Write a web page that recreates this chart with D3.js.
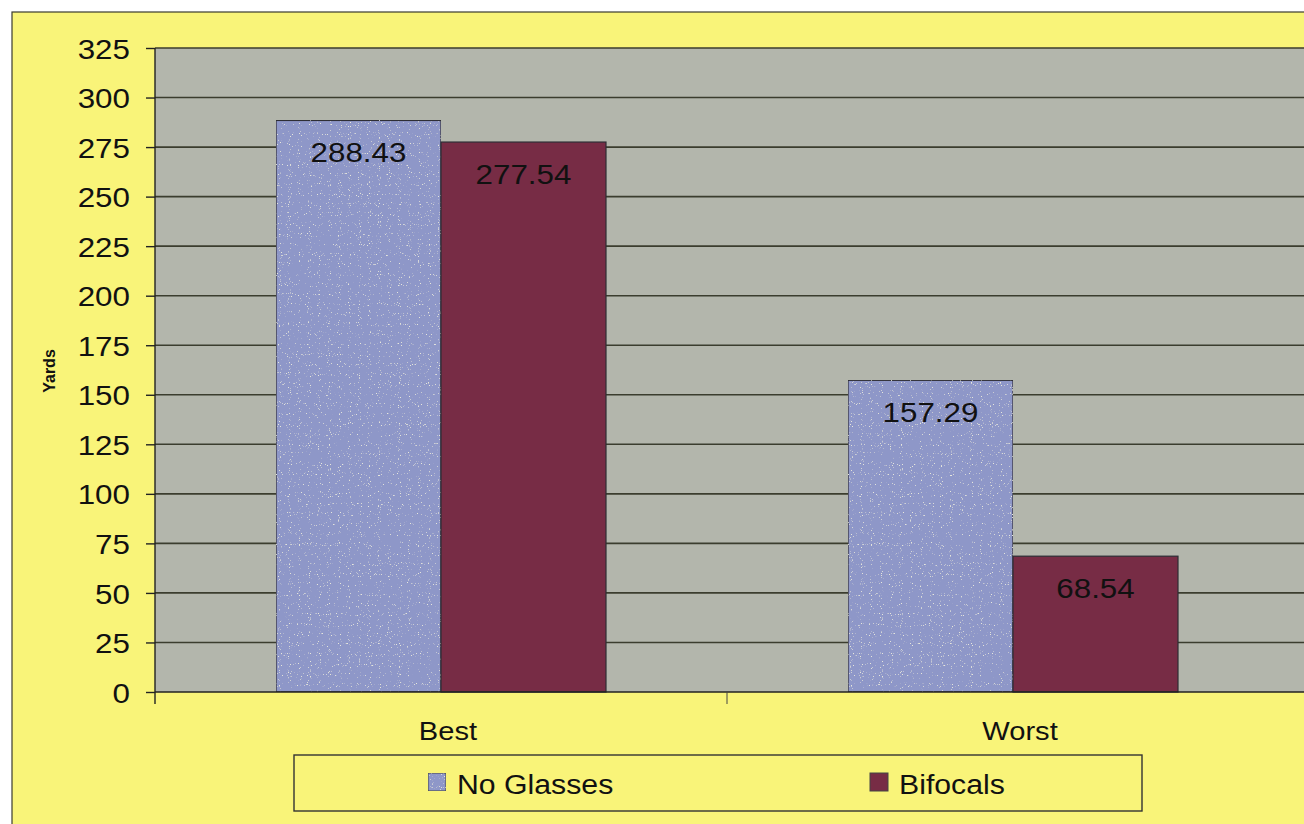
<!DOCTYPE html>
<html>
<head>
<meta charset="utf-8">
<script src="https://cdn.jsdelivr.net/npm/d3@7"></script>
<style>
  html, body { margin: 0; padding: 0; background: #fff; }
  svg { display: block; font-family: "Liberation Sans", Arial, sans-serif; }
</style>
</head>
<body>
<div id="chart"></div>
<script>
// chart data
var categories = ["Best", "Worst"];
var seriesNames = ["No Glasses", "Bifocals"];
var noGlasses = [288.43, 157.29];
var bifocals = [277.54, 68.54];
var yTicks = [0, 25, 50, 75, 100, 125, 150, 175, 200, 225, 250, 275, 300, 325];

var colors = {"No Glasses": "#8e97c8", "Bifocals": "#772c45"};
var stretch = 1.12; // source text looks widened horizontally

var W = 1304, H = 824;
var plot = {left: 155, top: 48, right: 1299, bottom: 692};

var svg = d3.select("#chart").append("svg")
    .attr("width", W)
    .attr("height", H);

// speckle texture for the blue bars
var defs = svg.append("defs");
var f = defs.append("filter").attr("id", "speckle")
    .attr("x", 0).attr("y", 0).attr("width", 1).attr("height", 1);
f.append("feTurbulence").attr("type", "fractalNoise").attr("baseFrequency", 0.9)
    .attr("numOctaves", 1).attr("seed", 3).attr("result", "noise");
f.append("feColorMatrix").attr("in", "noise").attr("type", "matrix")
    .attr("values", "0 0 0 0 0.8  0 0 0 0 0.8  0 0 0 0 0.72  10 0 0 0 -6.6")
    .attr("result", "dots");
f.append("feComposite").attr("in", "dots").attr("in2", "SourceGraphic").attr("operator", "in").attr("result", "clipped");
var merge = f.append("feMerge");
merge.append("feMergeNode").attr("in", "SourceGraphic");
merge.append("feMergeNode").attr("in", "clipped");

// background frame
svg.append("rect").attr("x", 0).attr("y", 0).attr("width", W).attr("height", H).attr("fill", "#fff");
svg.append("rect").attr("x", 12).attr("y", 12).attr("width", W).attr("height", H)
    .attr("fill", "#f9f479").attr("stroke", "#3a3a30").attr("stroke-width", 1.2);

// plot area
svg.append("rect")
    .attr("x", plot.left).attr("y", plot.top)
    .attr("width", W - plot.left).attr("height", plot.bottom - plot.top)
    .attr("fill", "#b3b6ac");

var y = d3.scaleLinear().domain([0, 325]).range([plot.bottom, plot.top]);
var x0 = d3.scaleBand().domain(categories).range([plot.left, plot.right]).padding(0);
var x1 = d3.scaleBand().domain(seriesNames)
    .range([x0.bandwidth() / 2 - 165, x0.bandwidth() / 2 + 165]).padding(0);

// gridlines
svg.append("g")
    .selectAll("line")
    .data(yTicks.filter(function(d) { return d > 0; }))
    .join("line")
    .attr("x1", plot.left).attr("x2", W)
    .attr("y1", function(d) { return y(d); })
    .attr("y2", function(d) { return y(d); })
    .attr("stroke", "#3b3d2e").attr("stroke-width", 1.6);

// y axis
var yAxis = svg.append("g")
    .attr("transform", "translate(" + plot.left + ",0)")
    .call(d3.axisLeft(y).tickValues(yTicks).tickSize(9).tickPadding(0).tickFormat(d3.format("d")));
yAxis.select(".domain").attr("stroke", "#222").attr("stroke-width", 1.4).attr("d", "M0," + plot.top + "V" + (plot.bottom + 12));
yAxis.selectAll(".tick line").attr("stroke", "#222").attr("stroke-width", 1.4);
yAxis.selectAll(".tick text").remove();
yAxis.selectAll(".tick").append("text")
    .attr("transform", "translate(-25,0) scale(" + stretch + ",1)")
    .attr("text-anchor", "end")
    .attr("dy", "0.36em")
    .attr("fill", "#111")
    .style("font-size", "28px")
    .text(function(d) { return d; });

// bars
var rows = categories.map(function(c, i) {
  return {cat: c, values: [{name: "No Glasses", v: noGlasses[i]}, {name: "Bifocals", v: bifocals[i]}]};
});

var groups = svg.append("g").selectAll("g")
    .data(rows)
    .join("g")
    .attr("transform", function(d) { return "translate(" + x0(d.cat) + ",0)"; });

groups.selectAll("rect")
    .data(function(d) { return d.values; })
    .join("rect")
    .attr("x", function(d) { return x1(d.name); })
    .attr("width", x1.bandwidth())
    .attr("y", function(d) { return y(d.v); })
    .attr("height", function(d) { return plot.bottom - y(d.v); })
    .attr("fill", function(d) { return colors[d.name]; })
    .attr("filter", function(d) { return d.name === "No Glasses" ? "url(#speckle)" : null; })
    .attr("stroke", "#2d2d35").attr("stroke-width", 1.2);

groups.selectAll("text.val")
    .data(function(d) { return d.values; })
    .join("text")
    .attr("class", "val")
    .attr("transform", function(d) {
      return "translate(" + (x1(d.name) + x1.bandwidth() / 2) + "," + (y(d.v) + 42) + ") scale(" + stretch + ",1)";
    })
    .attr("text-anchor", "middle")
    .attr("fill", "#111")
    .style("font-size", "28px")
    .text(function(d) { return d.v.toFixed(2); });

// x axis
svg.append("line")
    .attr("x1", plot.left).attr("x2", W)
    .attr("y1", plot.bottom).attr("y2", plot.bottom)
    .attr("stroke", "#222").attr("stroke-width", 1.6);
svg.append("g").selectAll("line")
    .data(categories.slice(1))
    .join("line")
    .attr("x1", function(d) { return x0(d); }).attr("x2", function(d) { return x0(d); })
    .attr("y1", plot.bottom).attr("y2", plot.bottom + 12)
    .attr("stroke", "#444").attr("stroke-width", 1);

svg.append("g").selectAll("text")
    .data(categories)
    .join("text")
    .attr("transform", function(d) {
      return "translate(" + (x0(d) + x0.bandwidth() / 2 + 7) + "," + (plot.bottom + 48) + ") scale(" + stretch + ",1)";
    })
    .attr("text-anchor", "middle")
    .attr("fill", "#111")
    .style("font-size", "26px")
    .text(function(d) { return d; });

// y axis title
svg.append("text")
    .attr("transform", "translate(55,371) rotate(-90)")
    .attr("text-anchor", "middle")
    .attr("fill", "#111")
    .style("font-size", "16px")
    .style("font-weight", "bold")
    .text("Yards");

// legend
var legend = svg.append("g");
legend.append("rect")
    .attr("x", 294).attr("y", 755).attr("width", 848).attr("height", 56)
    .attr("fill", "none").attr("stroke", "#333").attr("stroke-width", 1.4);
var legendX = [428, 870];
var items = legend.selectAll("g")
    .data(seriesNames)
    .join("g")
    .attr("transform", function(d, i) { return "translate(" + legendX[i] + ",773)"; });
items.append("rect")
    .attr("width", 18).attr("height", 18)
    .attr("fill", function(d) { return colors[d]; })
    .attr("filter", function(d) { return d === "No Glasses" ? "url(#speckle)" : null; })
    .attr("stroke", "#444").attr("stroke-width", 1);
items.append("text")
    .attr("transform", "translate(29,21) scale(" + stretch + ",1)")
    .attr("fill", "#111")
    .style("font-size", "27px")
    .text(function(d) { return d; });
</script>
</body>
</html>
